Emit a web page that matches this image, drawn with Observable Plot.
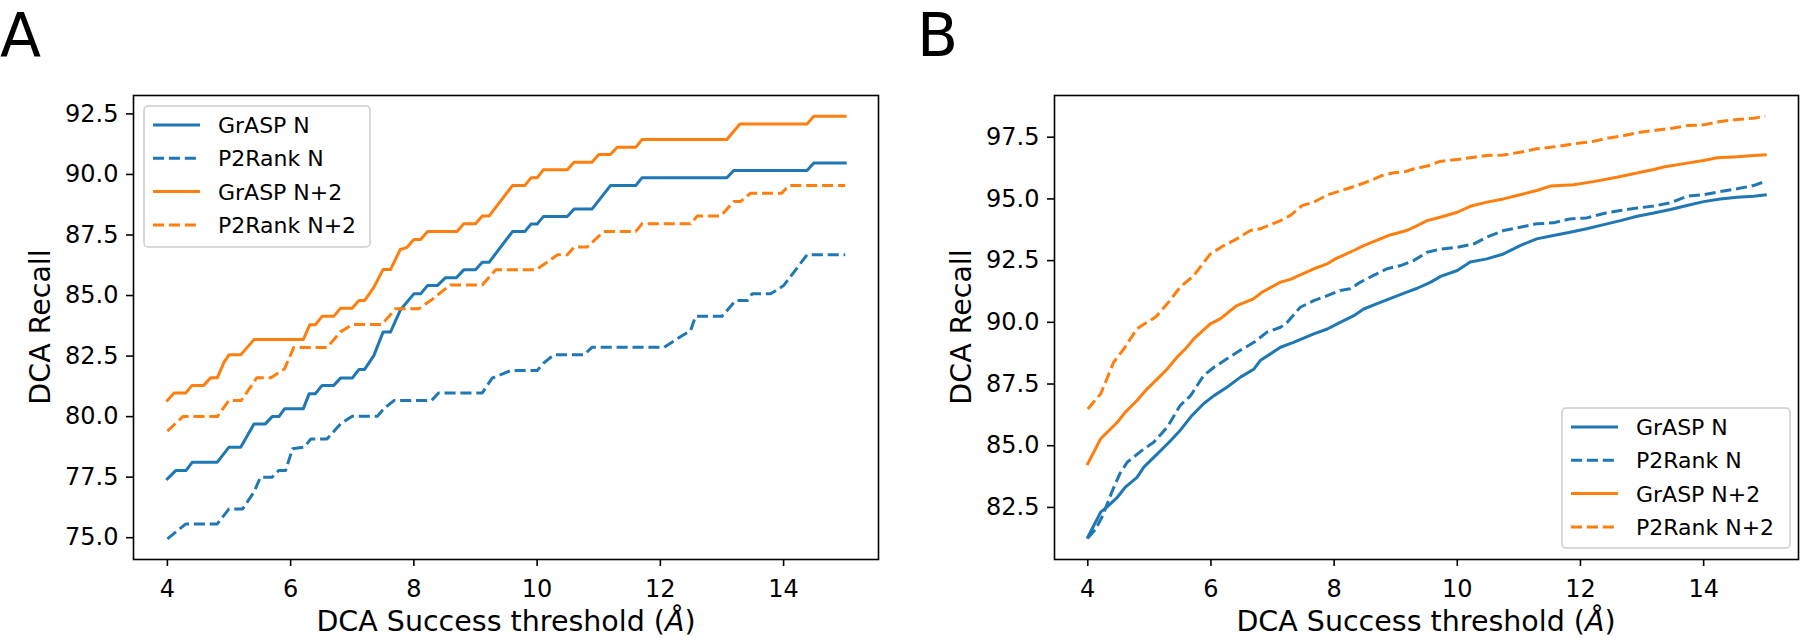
<!DOCTYPE html>
<html><head><meta charset="utf-8">
<script src="https://cdn.jsdelivr.net/npm/d3@7"></script>
<script src="https://cdn.jsdelivr.net/npm/@observablehq/plot@0.6"></script>
<style>
body{margin:0;background:#fff;}
#wrap{position:relative;width:1800px;height:638px;overflow:hidden;background:#fff;}
.panel{position:absolute;top:0;width:900px;height:638px;}
</style></head><body><div id="wrap"></div>
<script>
// ---- tick labels / categories ----
const xTicks = [4, 6, 8, 10, 12, 14];
const aYTicks = [75, 77.5, 80, 82.5, 85, 87.5, 90, 92.5];
const bYTicks = [82.5, 85, 87.5, 90, 92.5, 95, 97.5];
const seriesNames = ["GrASP N", "P2Rank N", "GrASP N+2", "P2Rank N+2"];
const seriesColors = ["#1f77b4", "#1f77b4", "#ff7f0e", "#ff7f0e"];
const seriesDashed = [false, true, false, true];
const xLabel = "DCA Success threshold (";
const xLabelUnit = "Å";
const yLabel = "DCA Recall";

// ---- Panel A: [threshold, recall] ----
const aGraspN = [[4.0,77.43],[4.135,77.77],[4.30,77.77],[4.405,78.12],[4.81,78.12],[5.0,78.74],[5.19,78.74],[5.405,79.70],[5.59,79.70],[5.70,80.0],[5.81,80.0],[5.90,80.32],[6.205,80.32],[6.30,80.94],[6.40,80.94],[6.51,81.29],[6.70,81.29],[6.81,81.59],[7.0,81.59],[7.11,81.95],[7.20,81.95],[7.35,82.52],[7.50,83.49],[7.62,83.49],[7.78,84.40],[8.0,85.07],[8.11,85.07],[8.22,85.41],[8.38,85.41],[8.51,85.73],[8.69,85.73],[8.81,86.06],[9.0,86.06],[9.11,86.37],[9.22,86.37],[9.60,87.64],[9.80,87.64],[9.90,87.95],[10.0,87.95],[10.10,88.26],[10.49,88.26],[10.60,88.57],[10.89,88.57],[11.19,89.54],[11.60,89.54],[11.70,89.86],[13.08,89.86],[13.19,90.16],[14.38,90.16],[14.49,90.47],[15.0,90.47]];
const aP2RankN = [[4.0,74.95],[4.30,75.57],[4.81,75.57],[5.0,76.19],[5.22,76.19],[5.405,76.88],[5.51,77.50],[5.70,77.50],[5.81,77.78],[5.92,77.78],[6.03,78.67],[6.22,78.74],[6.33,79.08],[6.59,79.08],[6.81,79.70],[7.0,80.02],[7.41,80.02],[7.51,80.32],[7.68,80.67],[8.29,80.67],[8.40,80.98],[9.11,80.98],[9.27,81.59],[9.57,81.90],[10.0,81.90],[10.11,82.22],[10.27,82.55],[10.76,82.55],[10.89,82.86],[12.06,82.86],[12.27,83.21],[12.49,83.55],[12.57,84.14],[13.0,84.14],[13.22,84.79],[13.41,84.79],[13.49,85.07],[13.79,85.07],[14.0,85.41],[14.38,86.68],[15.0,86.68]];
const aGraspN2 = [[4.0,80.67],[4.11,80.98],[4.30,80.98],[4.40,81.29],[4.59,81.29],[4.70,81.60],[4.81,81.60],[4.92,82.25],[5.0,82.55],[5.19,82.55],[5.405,83.18],[6.205,83.18],[6.31,83.79],[6.40,83.79],[6.51,84.14],[6.70,84.14],[6.81,84.48],[7.0,84.48],[7.11,84.79],[7.20,84.79],[7.35,85.34],[7.50,86.07],[7.62,86.07],[7.78,86.90],[7.89,86.99],[8.0,87.31],[8.11,87.31],[8.22,87.64],[8.70,87.64],[8.81,87.96],[9.0,87.96],[9.11,88.28],[9.22,88.28],[9.60,89.54],[9.80,89.54],[9.90,89.86],[10.0,89.86],[10.10,90.19],[10.49,90.19],[10.60,90.50],[10.89,90.50],[11.0,90.82],[11.19,90.82],[11.30,91.12],[11.60,91.12],[11.70,91.44],[13.08,91.44],[13.29,92.08],[14.38,92.08],[14.49,92.40],[15.0,92.40]];
const aP2RankN2 = [[4.0,79.40],[4.25,80.0],[4.81,80.0],[5.0,80.67],[5.20,80.67],[5.45,81.60],[5.68,81.60],[5.90,81.97],[6.05,82.85],[6.59,82.85],[6.81,83.50],[7.0,83.80],[7.48,83.80],[7.70,84.45],[8.08,84.45],[8.30,84.85],[8.59,85.44],[9.11,85.44],[9.33,86.06],[9.98,86.06],[10.16,86.37],[10.33,86.68],[10.49,86.68],[10.60,87.0],[10.81,87.0],[11.08,87.64],[11.60,87.64],[11.70,87.96],[12.49,87.96],[12.60,88.28],[12.98,88.28],[13.19,88.88],[13.30,88.88],[13.46,89.22],[13.97,89.22],[14.08,89.54],[15.0,89.54]];

// ---- Panel B: [threshold, recall] ----
const bGraspN = [[4.0,81.29],[4.21,82.31],[4.31,82.51],[4.48,82.91],[4.61,83.32],[4.80,83.72],[4.91,84.13],[5.13,84.67],[5.32,85.14],[5.50,85.62],[5.69,86.22],[5.88,86.70],[6.05,87.03],[6.26,87.37],[6.48,87.78],[6.70,88.11],[6.80,88.45],[7.13,88.99],[7.34,89.19],[7.67,89.53],[7.89,89.73],[8.05,89.94],[8.32,90.27],[8.48,90.54],[8.75,90.81],[8.97,91.02],[9.18,91.22],[9.35,91.38],[9.57,91.63],[9.73,91.86],[10.0,92.10],[10.21,92.44],[10.48,92.57],[10.75,92.77],[11.02,93.11],[11.29,93.38],[11.56,93.52],[11.83,93.65],[12.1,93.79],[12.43,93.99],[12.65,94.12],[12.92,94.30],[13.19,94.43],[13.46,94.57],[13.73,94.73],[14.0,94.89],[14.27,95.0],[14.54,95.07],[14.81,95.11],[15.0,95.16]];
const bP2RankN = [[4.0,81.25],[4.12,81.6],[4.23,82.1],[4.40,83.18],[4.52,83.86],[4.64,84.33],[4.88,84.81],[5.07,85.14],[5.29,85.75],[5.50,86.63],[5.67,87.03],[5.88,87.84],[6.05,88.18],[6.26,88.52],[6.47,88.86],[6.70,89.19],[6.91,89.60],[7.13,89.80],[7.24,90.0],[7.45,90.61],[7.67,90.88],[7.89,91.08],[8.10,91.29],[8.26,91.36],[8.43,91.63],[8.64,91.90],[8.86,92.17],[9.08,92.30],[9.29,92.50],[9.51,92.84],[9.73,92.97],[10.0,93.04],[10.27,93.18],[10.48,93.45],[10.75,93.72],[11.02,93.85],[11.29,93.99],[11.56,94.03],[11.83,94.19],[12.1,94.23],[12.43,94.44],[12.65,94.53],[12.92,94.63],[13.19,94.71],[13.46,94.84],[13.73,95.11],[14.0,95.17],[14.27,95.30],[14.54,95.41],[14.81,95.54],[15.0,95.71]];
const bGraspN2 = [[4.0,84.27],[4.21,85.28],[4.48,85.95],[4.61,86.36],[4.80,86.83],[4.94,87.24],[5.13,87.71],[5.29,88.11],[5.45,88.59],[5.61,88.99],[5.72,89.33],[5.99,89.94],[6.15,90.14],[6.42,90.68],[6.69,90.95],[6.83,91.22],[7.13,91.63],[7.29,91.74],[7.67,92.17],[7.89,92.37],[8.02,92.57],[8.32,92.91],[8.48,93.11],[8.75,93.38],[8.91,93.54],[9.18,93.72],[9.35,93.92],[9.51,94.12],[9.72,94.26],[10.0,94.46],[10.21,94.70],[10.48,94.87],[10.75,95.0],[11.02,95.17],[11.29,95.34],[11.51,95.52],[11.89,95.57],[12.21,95.70],[12.59,95.88],[12.86,96.02],[13.19,96.19],[13.35,96.29],[13.73,96.45],[14.0,96.56],[14.22,96.67],[14.54,96.71],[14.81,96.76],[15.0,96.79]];
const bP2RankN2 = [[4.0,86.49],[4.21,87.1],[4.42,88.38],[4.585,88.92],[4.80,89.74],[4.88,89.87],[5.10,90.21],[5.29,90.75],[5.50,91.42],[5.72,91.89],[5.99,92.77],[6.21,93.11],[6.42,93.38],[6.64,93.72],[6.80,93.79],[7.13,94.12],[7.29,94.33],[7.48,94.73],[7.67,94.87],[7.89,95.16],[8.21,95.41],[8.37,95.54],[8.59,95.74],[8.78,95.95],[8.97,96.06],[9.16,96.11],[9.30,96.22],[9.51,96.33],[9.72,96.52],[10.0,96.60],[10.27,96.69],[10.48,96.76],[10.75,96.78],[11.02,96.89],[11.29,97.03],[11.67,97.14],[11.89,97.23],[12.21,97.33],[12.43,97.46],[12.65,97.54],[12.92,97.68],[13.19,97.77],[13.51,97.87],[13.73,97.97],[14.0,98.0],[14.27,98.14],[14.54,98.22],[14.81,98.27],[15.0,98.35]];

const FONT = "DejaVu Sans, sans-serif";

function makePanel(cfg) {
  const marks = [
    ...cfg.series.map((s, i) => Plot.line(s, {
      x: d => d[0], y: d => d[1],
      stroke: seriesColors[i], strokeWidth: 3,
      strokeDasharray: seriesDashed[i] ? "11.1,4.8" : undefined,
      strokeLinecap: seriesDashed[i] ? "butt" : "square",
      strokeLinejoin: "round"
    })),
    Plot.frame({stroke: "black", strokeWidth: 1.6}),
    Plot.axisX({ticks: xTicks, tickSize: 7, tickPadding: 13, tickFormat: d => String(d), label: null, strokeWidth: 1.6}),
    Plot.axisY({ticks: cfg.yTicks, tickSize: 7, tickPadding: 8, tickFormat: d3.format(".1f"), label: null, strokeWidth: 1.6})
  ];
  const svg = Plot.plot({
    width: 900, height: 638,
    marginLeft: cfg.marginLeft, marginRight: cfg.marginRight, marginTop: 95, marginBottom: 79,
    x: {domain: cfg.xDomain},
    y: {domain: cfg.yDomain},
    style: {fontFamily: FONT, fontSize: "24px", color: "black", background: "white", overflow: "visible"},
    marks
  });
  const s = d3.select(svg);
  // panel letter
  s.append("text").attr("x", cfg.letterX).attr("y", 56).attr("text-anchor", "start")
    .attr("font-size", 60).attr("font-family", FONT).attr("fill", "black").text(cfg.letter);
  // y label
  s.append("text").attr("transform", `translate(${cfg.yLabelX},327) rotate(-90)`).attr("text-anchor", "middle")
    .attr("font-size", 28.5).attr("font-family", FONT).attr("fill", "black").text(yLabel);
  // x label
  const xl = s.append("text").attr("x", cfg.xLabelX).attr("y", 631).attr("text-anchor", "middle")
    .attr("font-size", 28.5).attr("font-family", FONT).attr("fill", "black");
  xl.append("tspan").text(xLabel);
  xl.append("tspan").attr("font-style", "italic").text(xLabelUnit);
  xl.append("tspan").text(")");
  // legend
  const L = cfg.legend;
  const g = s.append("g");
  g.append("rect").attr("x", L.x).attr("y", L.y).attr("width", L.w).attr("height", L.h)
    .attr("rx", 4).attr("fill", "white").attr("fill-opacity", 0.8).attr("stroke", "#cccccc").attr("stroke-width", 1.5);
  seriesNames.forEach((name, i) => {
    const cy = L.y + 19 + i * 33.3;
    g.append("line").attr("x1", L.x + 9).attr("x2", L.x + 56).attr("y1", cy).attr("y2", cy)
      .attr("stroke", seriesColors[i]).attr("stroke-width", 3)
      .attr("stroke-dasharray", seriesDashed[i] ? "11.1,4.8" : null);
    g.append("text").attr("x", L.x + 74).attr("y", cy).attr("dy", "0.36em").attr("text-anchor", "start")
      .attr("font-size", 22).attr("font-family", FONT).attr("fill", "black").text(name);
  });
  return svg;
}

const wrap = document.getElementById("wrap");
const pA = document.createElement("div"); pA.className = "panel"; pA.style.left = "0px";
const pB = document.createElement("div"); pB.className = "panel"; pB.style.left = "900px";
wrap.appendChild(pA); wrap.appendChild(pB);

pA.appendChild(makePanel({
  series: [aGraspN, aP2RankN, aGraspN2, aP2RankN2],
  yTicks: aYTicks, xDomain: [3.45, 15.54], yDomain: [74.10, 93.26],
  marginLeft: 133, marginRight: 22,
  letter: "A", letterX: 0, yLabelX: 50, xLabelX: 506,
  legend: {x: 144, y: 106, w: 226, h: 141}
}));
pB.appendChild(makePanel({
  series: [bGraspN, bP2RankN, bGraspN2, bP2RankN2],
  yTicks: bYTicks, xDomain: [3.46, 15.54], yDomain: [80.39, 99.19],
  marginLeft: 154, marginRight: 2,
  letter: "B", letterX: 17, yLabelX: 71, xLabelX: 526,
  legend: {x: 662, y: 408, w: 228, h: 140}
}));
</script></body></html>
